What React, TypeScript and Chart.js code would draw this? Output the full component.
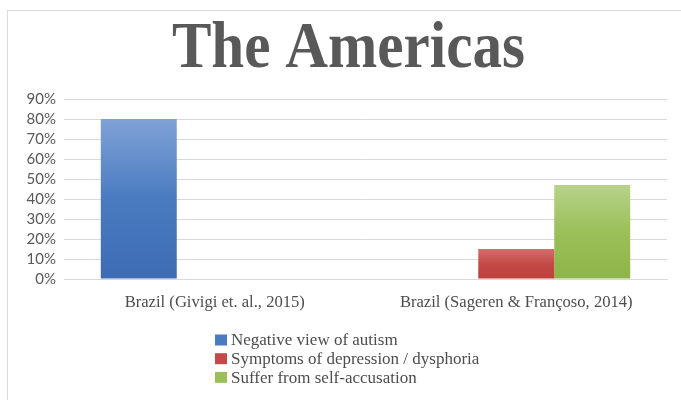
import React, { useEffect, useRef } from "react";
import { Chart, registerables } from "chart.js";

Chart.register(...registerables);

const titleText = "The Americas";
const categories = ["Brazil (Givigi et. al., 2015)", "Brazil (Sageren & Françoso, 2014)"];
const seriesNames = ["Negative view of autism", "Symptoms of depression / dysphoria", "Suffer from self-accusation"];
const negativeView = [80, null];
const depression = [null, 15];
const selfAccusation = [null, 47];
const yTicksMax = 90;
const yTickStep = 10;

const solid = ["#4a7bc0", "#c44a47", "#9bbf59"];
const gradTop = ["#7fa2d6", "#d26f6c", "#b7d38a"];
const gradBottom = ["#3d6cb4", "#bf3e3a", "#8db548"];

function gradFill(i: number) {
  return (ctx: any) => {
    const chart = ctx.chart;
    const area = chart.chartArea;
    const v = ctx.raw;
    if (!area || v == null || ctx.type !== "data") return solid[i];
    const ys = chart.scales.y;
    const t = ys.getPixelForValue(v);
    const b = ys.getPixelForValue(0);
    const g = chart.ctx.createLinearGradient(0, t, 0, b);
    g.addColorStop(0, gradTop[i]);
    g.addColorStop(0.5, solid[i]);
    g.addColorStop(1, gradBottom[i]);
    return g;
  };
}

const SERIF = '"Liberation Serif", "DejaVu Serif", serif';

const titlePlugin = {
  id: "condensedTitle",
  afterDraw(chart: any) {
    const c = chart.ctx;
    c.save();
    c.font = `bold 65px ${SERIF}`;
    c.fillStyle = "#595959";
    c.textAlign = "center";
    c.textBaseline = "alphabetic";
    c.translate(340.5, 56);
    c.scale(0.91, 1);
    c.fillText(titleText, 0, 0);
    c.restore();
  },
};

const legendPlugin = {
  id: "stackedLegend",
  afterDraw(chart: any) {
    const c = chart.ctx;
    const x0 = 207;
    const y0 = 329;
    const rowH = 18.7;
    c.save();
    c.font = `17px ${SERIF}`;
    c.textBaseline = "middle";
    c.textAlign = "left";
    chart.data.datasets.forEach((ds: any, i: number) => {
      const y = y0 + i * rowH;
      c.fillStyle = solid[i];
      c.fillRect(x0, y - 5.5, 12, 11);
      c.fillStyle = "#4d4d4d";
      c.fillText(ds.label, x0 + 16, y + 1);
    });
    c.restore();
  },
};

export default function App() {
  const ref = useRef<HTMLCanvasElement>(null);
  useEffect(() => {
    if (!ref.current) return;
    const chart = new Chart(ref.current, {
      type: "bar",
      data: {
        labels: categories,
        datasets: [
          { label: seriesNames[0], data: negativeView, backgroundColor: gradFill(0) },
          { label: seriesNames[1], data: depression, backgroundColor: gradFill(1) },
          { label: seriesNames[2], data: selfAccusation, backgroundColor: gradFill(2) },
        ],
      },
      options: {
        animation: false,
        responsive: true,
        maintainAspectRatio: false,
        layout: { padding: { left: 0, right: 14, top: 88, bottom: 0 } },
        datasets: { bar: { categoryPercentage: 0.756, barPercentage: 1 } },
        plugins: {
          legend: { display: false },
          tooltip: { enabled: false },
          title: { display: false },
        },
        scales: {
          x: {
            grid: { display: false },
            border: { display: true, color: "#d9d9d9" },
            ticks: {
              color: "#4d4d4d",
              font: { family: SERIF, size: 16.6 },
              padding: 6,
            },
            afterFit: (s: any) => {
              s.height = 121;
            },
          },
          y: {
            min: 0,
            max: yTicksMax,
            grid: { color: "#d9d9d9", drawTicks: false },
            border: { display: false },
            ticks: {
              stepSize: yTickStep,
              autoSkip: false,
              color: "#595959",
              font: { family: "Lato", size: 15 },
              padding: 8,
              callback: (v: any) => v + "%",
            },
            afterFit: (s: any) => {
              s.width = 56;
            },
          },
        },
      },
      plugins: [titlePlugin, legendPlugin],
    });
    return () => chart.destroy();
  }, []);
  return (
    <div
      style={{
        position: "absolute",
        left: 7,
        top: 10,
        width: 690,
        height: 395,
        borderTop: "1px solid #d9d9d9",
        borderLeft: "1px solid #d9d9d9",
        background: "#fff",
      }}
    >
      <div style={{ position: "absolute", left: 0, top: 0, width: 673, height: 389 }}>
        <canvas ref={ref} />
      </div>
    </div>
  );
}
